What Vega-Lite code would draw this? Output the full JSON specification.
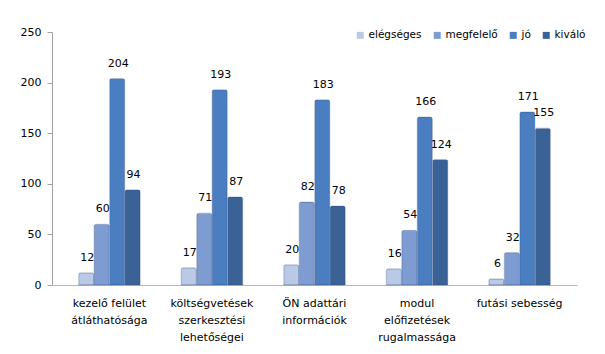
{
  "$schema": "https://vega.github.io/schema/vega-lite/v6.json",
  "width": 525,
  "height": 253,
  "autosize": {"type": "none"},
  "padding": {"left": 52, "top": 32, "right": 28, "bottom": 69},
  "background": "white",
  "config": {
    "view": {"stroke": null},
    "font": "DejaVu Sans",
    "axis": {"labelFont": "DejaVu Sans", "labelFontSize": 11, "labelColor": "#000000"}
  },
  "data": {
    "values": [
      {"kategoria": "kezelő felület|átláthatósága", "ertekeles": "elégséges", "darab": 12},
      {"kategoria": "kezelő felület|átláthatósága", "ertekeles": "megfelelő", "darab": 60},
      {"kategoria": "kezelő felület|átláthatósága", "ertekeles": "jó", "darab": 204},
      {"kategoria": "kezelő felület|átláthatósága", "ertekeles": "kiváló", "darab": 94},
      {"kategoria": "költségvetések|szerkesztési|lehetőségei", "ertekeles": "elégséges", "darab": 17},
      {"kategoria": "költségvetések|szerkesztési|lehetőségei", "ertekeles": "megfelelő", "darab": 71},
      {"kategoria": "költségvetések|szerkesztési|lehetőségei", "ertekeles": "jó", "darab": 193},
      {"kategoria": "költségvetések|szerkesztési|lehetőségei", "ertekeles": "kiváló", "darab": 87},
      {"kategoria": "ÖN adattári|információk", "ertekeles": "elégséges", "darab": 20},
      {"kategoria": "ÖN adattári|információk", "ertekeles": "megfelelő", "darab": 82},
      {"kategoria": "ÖN adattári|információk", "ertekeles": "jó", "darab": 183},
      {"kategoria": "ÖN adattári|információk", "ertekeles": "kiváló", "darab": 78},
      {"kategoria": "modul|előfizetések|rugalmassága", "ertekeles": "elégséges", "darab": 16},
      {"kategoria": "modul|előfizetések|rugalmassága", "ertekeles": "megfelelő", "darab": 54},
      {"kategoria": "modul|előfizetések|rugalmassága", "ertekeles": "jó", "darab": 166},
      {"kategoria": "modul|előfizetések|rugalmassága", "ertekeles": "kiváló", "darab": 124},
      {"kategoria": "futási sebesség", "ertekeles": "elégséges", "darab": 6},
      {"kategoria": "futási sebesség", "ertekeles": "megfelelő", "darab": 32},
      {"kategoria": "futási sebesség", "ertekeles": "jó", "darab": 171},
      {"kategoria": "futási sebesség", "ertekeles": "kiváló", "darab": 155}
    ]
  },
  "encoding": {
    "x": {
      "field": "kategoria",
      "type": "nominal",
      "sort": null,
      "scale": {"paddingInner": 0.4, "paddingOuter": 0.26},
      "axis": {
        "title": null,
        "labelAngle": 0,
        "labelExpr": "split(datum.label, '|')",
        "labelLineHeight": 17,
        "labelPadding": 12,
        "domain": true,
        "domainColor": "#b8b8b8",
        "ticks": false
      }
    },
    "xOffset": {
      "field": "ertekeles",
      "type": "nominal",
      "sort": ["elégséges", "megfelelő", "jó", "kiváló"],
      "scale": {"paddingInner": 0.02}
    },
    "y": {
      "field": "darab",
      "type": "quantitative",
      "scale": {"domain": [0, 250]},
      "axis": {
        "title": null,
        "values": [0, 50, 100, 150, 200, 250],
        "grid": false,
        "domainColor": "#a0a0a0",
        "tickColor": "#a0a0a0",
        "tickSize": 5,
        "labelPadding": 6
      }
    },
    "color": {
      "field": "ertekeles",
      "type": "nominal",
      "sort": ["elégséges", "megfelelő", "jó", "kiváló"],
      "scale": {
        "domain": ["elégséges", "megfelelő", "jó", "kiváló"],
        "range": ["#BACAE6", "#7E9CD2", "#4A7EC1", "#3B6296"]
      },
      "legend": {
        "title": null,
        "orient": "none",
        "direction": "horizontal",
        "legendX": 303,
        "legendY": -2,
        "symbolType": "square",
        "symbolSize": 49,
        "symbolStrokeWidth": 0,
        "labelFontSize": 10.5,
        "labelFont": "DejaVu Sans",
        "columnPadding": 10,
        "labelOffset": 3
      }
    }
  },
  "layer": [
    {
      "mark": {"type": "bar", "stroke": "#2f4f7f", "strokeWidth": 0.6, "strokeOpacity": 0.5, "cornerRadiusTopLeft": 2, "cornerRadiusTopRight": 2}
    },
    {
      "mark": {"type": "text", "baseline": "bottom", "dy": -10, "dx": 1, "fontSize": 11, "color": "#000000"},
      "encoding": {
        "text": {"field": "darab", "type": "quantitative"},
        "color": {"value": "#000000"}
      }
    }
  ]
}
